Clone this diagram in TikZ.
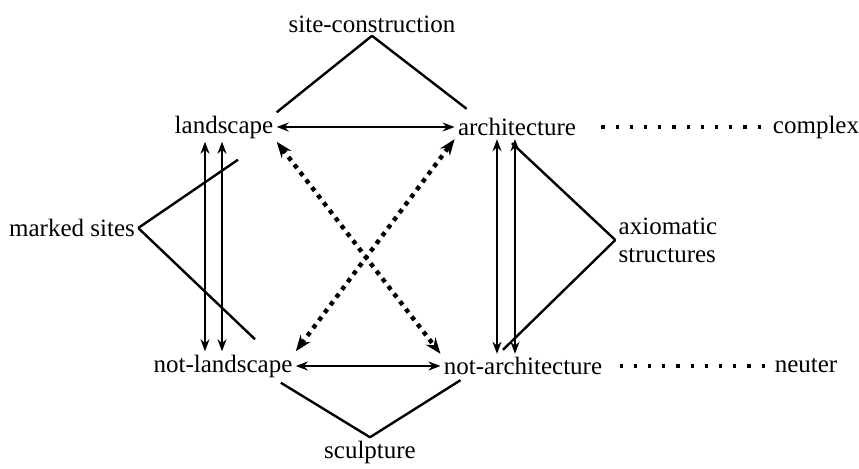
\documentclass[tikz,border=0pt]{standalone}
\usepackage{fontspec}
\setmainfont{Liberation Serif}
\usetikzlibrary{arrows.meta, calc}
\tikzset{
  font=\fontsize{12.5}{14}\selectfont,
  >={Stealth[length=6pt, width=4.5pt]},
  %
  term/.style={inner sep=1.5pt, text=black},
  %
  link/.style={draw=black, line width=1.2pt},
  opp/.style={link, <->},
  contra/.style={draw=black, line width=2.2pt, dash pattern=on 2.2pt off 2.6pt, <->,
                 >={Stealth[length=8pt, width=6pt]}},
  dots/.style={draw=black, line width=1.6pt, dash pattern=on 1.6pt off 5.5pt},
}
\begin{document}
\begin{tikzpicture}[x=0.5pt, y=-0.5pt]
\useasboundingbox (0,0) rectangle (859,468);

% the eight terms of the expanded field
\node[term] (site)   at (372,24)  {site-construction};
\node[term] (land)   at (224,127) {landscape};
\node[term] (arch)   at (517,127) {architecture};
\node[term] (cplx)   at (816,127) {complex};
\node[term] (marked) at (72,228)  {marked sites};
\node[term, align=left] (axio) at (668,240) {axiomatic\\structures};
\node[term] (nland)  at (223,366) {not-landscape};
\node[term] (narch)  at (523,366) {not-architecture};
\node[term] (neut)   at (806,366) {neuter};
\node[term] (sculp)  at (370,452) {sculpture};

% feet of the implication arrows
\coordinate (la) at ($(land.south)+(-19,0)$);
\coordinate (lb) at ($(land.south)+(-2,0)$);
\coordinate (aa) at ($(arch.south)+(-20,0)$);
\coordinate (ab) at ($(arch.south)+(-2,0)$);

% the outer lozenge
\draw[link] (site.south) -- (land.north east);
\draw[link] (site.south) -- ($(arch.north west)+(12,-6)$);
\draw[link] (marked.east) -- ($(land.south)+(14,18)$);
\draw[link] (marked.east) -- ($(nland.north)+(32,-12)$);
\draw[link] (axio.west) -- ($(arch.south)+(-5,4)$);
\draw[link] (axio.west) -- ($(narch.north)+(-20,-4)$);
\draw[link] (sculp.north) -- ($(nland.south east)+(-15,2)$);
\draw[link] (sculp.north) -- ($(narch.south west)+(20,2)$);

% contraries
\draw[opp] (land.east) -- (arch.west);
\draw[opp] (nland.east) -- (narch.west);

% implications
\draw[opp] (la) -- (la |- nland.north);
\draw[opp] (lb) -- (lb |- nland.north);
\draw[opp] (aa) -- (aa |- narch.north);
\draw[opp] (ab) -- (ab |- narch.north);

% contradictions
\draw[contra] (land.south east) -- (narch.north west);
\draw[contra] (nland.north east) -- (arch.south west);

% to the complex and the neuter
\draw[dots] ($(arch.east)+(22,0)$) -- (cplx.west);
\draw[dots] ($(narch.east)+(14,0)$) -- (neut.west);
\end{tikzpicture}
\end{document}
